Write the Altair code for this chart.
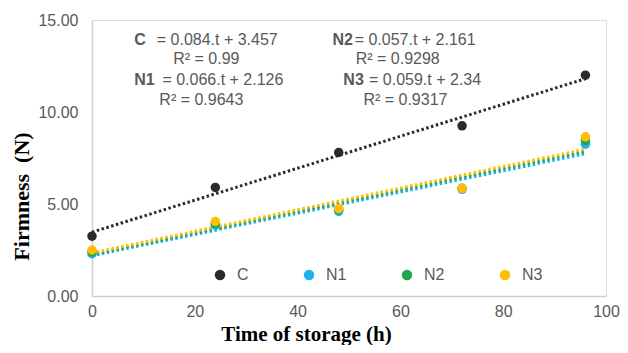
import altair as alt
import pandas as pd

# data
times = [0, 24, 48, 72, 96]
series_names = ["C", "N1", "N2", "N3"]
c_vals = [3.25, 5.9, 7.8, 9.25, 12.0]
n1_vals = [2.3, 3.85, 4.6, 5.8, 8.25]
n2_vals = [2.4, 3.95, 4.7, 5.85, 8.45]
n3_vals = [2.5, 4.05, 4.75, 5.85, 8.65]
colors = ["#2b2b2b", "#1fb0ef", "#1ea84a", "#ffbf00"]

# annotation labels (bold part, rest) and anchor positions in data units
ann_bold = ["C", "", "N1", "", "N2", "", "N3", ""]
ann_rest = ["= 0.084.t + 3.457", "R² = 0.99", "= 0.066.t + 2.126", "R² = 0.9643",
            "= 0.057.t + 2.161", "R² = 0.9298", "= 0.059.t + 2.34", "R² = 0.9317"]
ann_t_bold = [8.2, 0, 8.2, 0, 46.8, 0, 48.9, 0]
ann_t_rest = [12.6, 15.8, 13.7, 13.1, 51.1, 51.3, 53.9, 52.8]
ann_f = [13.9, 12.88, 11.74, 10.65, 13.9, 12.88, 11.74, 10.65]

rows = []
for name, vals in zip(series_names, [c_vals, n1_vals, n2_vals, n3_vals]):
    for t, v in zip(times, vals):
        rows.append({"series": name, "t": t, "F": v})
df = pd.DataFrame(rows)

ann_df = pd.DataFrame({"bold": ann_bold, "rest": ann_rest, "tb": ann_t_bold,
                       "tr": ann_t_rest, "F": ann_f})

xscale = alt.Scale(domain=[0, 100], nice=False)
yscale = alt.Scale(domain=[0, 15], nice=False)
cscale = alt.Scale(domain=series_names, range=colors)

xaxis = alt.Axis(values=[0, 20, 40, 60, 80, 100], title="Time of storage (h)",
                 grid=False, ticks=False, labelFontSize=16, labelColor="#595959",
                 labelFont="Liberation Sans", labelPadding=7, labelFlush=False,
                 domainColor="#d0d0d0", domainWidth=1.5,
                 titleFont="Liberation Serif", titleFontSize=21, titleFontWeight="bold",
                 titleColor="#000000", titleX=214, titleY=38,
                 titleAlign="center", titleBaseline="middle")
yaxis = alt.Axis(values=[0, 5, 10, 15], format=".2f", title="Firmness\u00a0 (N)",
                 grid=False, ticks=False, labelFontSize=16, labelColor="#595959",
                 labelFont="Liberation Sans", labelPadding=14, labelFlush=False,
                 domainColor="#d0d0d0", domainWidth=1.5,
                 titleFont="Liberation Serif", titleFontSize=22, titleFontWeight="bold",
                 titleColor="#000000", titleX=-71, titleY=176,
                 titleAlign="center", titleBaseline="middle", titleAngle=270)

base = alt.Chart(df)

lines = base.transform_regression(
    "t", "F", groupby=["series"], extent=[0, 96]
).mark_line(strokeDash=[2.5, 2.5], strokeWidth=3).encode(
    x=alt.X("t:Q", scale=xscale, axis=xaxis),
    y=alt.Y("F:Q", scale=yscale, axis=yaxis),
    color=alt.Color("series:N", scale=cscale, legend=None),
    detail="series:N",
)

points = base.mark_circle(size=90, opacity=1).encode(
    x=alt.X("t:Q", scale=xscale),
    y=alt.Y("F:Q", scale=yscale),
    color=alt.Color("series:N", scale=cscale, legend=alt.Legend(
        title=None, orient="none", direction="horizontal", legendX=120, legendY=247,
        symbolType="circle", symbolSize=110, symbolStrokeWidth=0,
        labelFontSize=16, labelColor="#595959", labelFont="Liberation Sans",
        columnPadding=52, symbolOffset=0, labelOffset=9)),
)

txt_bold = alt.Chart(ann_df).transform_filter("datum.bold != ''").mark_text(
    align="left", baseline="middle", fontSize=16, fontWeight="bold",
    font="Liberation Sans", color="#595959").encode(
    x=alt.X("tb:Q", scale=xscale), y=alt.Y("F:Q", scale=yscale), text="bold:N")

txt_rest = alt.Chart(ann_df).mark_text(
    align="left", baseline="middle", fontSize=16,
    font="Liberation Sans", color="#595959").encode(
    x=alt.X("tr:Q", scale=xscale), y=alt.Y("F:Q", scale=yscale), text="rest:N")

chart = alt.layer(lines, points, txt_bold, txt_rest).resolve_scale(
    color="independent"
).properties(
    width=514, height=276,
    autosize=alt.AutoSizeParams(type="none"),
    padding={"left": 84, "top": 12, "right": 14, "bottom": 49},
).configure_view(stroke=None).configure(background="white")

chart.save("out.html", embed_options={"renderer": "svg", "actions": False})
